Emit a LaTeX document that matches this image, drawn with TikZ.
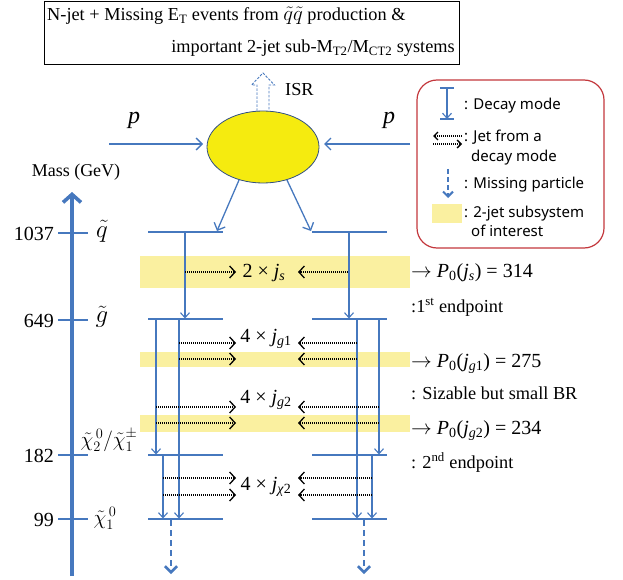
\documentclass[tikz,border=0pt]{standalone}
\usepackage{amsmath}
\usepackage{fontspec}
\setmainfont{Liberation Serif}
\newfontfamily\legendfont{Noto Sans}
\usetikzlibrary{arrows.meta,shapes.geometric}
\definecolor{lineblue}{RGB}{70,120,190}
\definecolor{bandyellow}{RGB}{250,240,160}
\definecolor{blobyellow}{RGB}{245,235,15}
\definecolor{blobedge}{RGB}{50,80,130}
\definecolor{legendred}{RGB}{195,55,60}
\newcommand\fs[1]{\fontsize{#1}{#1}\selectfont}
\begin{document}
\begin{tikzpicture}[x=1pt,y=-1pt,
  lvl/.style={draw=lineblue, line width=1.8pt},
  decay/.style={draw=lineblue, line width=1.1pt, -{Straight Barb[length=5pt,width=9pt]}},
  prod/.style={draw=lineblue, line width=1.3pt, -{Straight Barb[length=6pt,width=12pt]}},
  jet/.style={draw=black, line width=1.3pt, dash pattern=on 1pt off 1pt, -{Straight Barb[length=5.5pt,width=12pt]}},
  smalljet/.style={jet, -{Straight Barb[length=4pt,width=8pt]}},
  missing/.style={draw=lineblue, line width=2.6pt, dash pattern=on 6pt off 4pt, -{Straight Barb[length=6pt,width=12pt]}},
  band/.style={fill=bandyellow, draw=none},
  txt/.style={inner sep=0pt, font=\fs{18.3}},
  big/.style={inner sep=0pt, font=\fs{20}},
  legend/.style={font=\legendfont\fs{15}, anchor=base west, inner sep=0pt},
]
\useasboundingbox (0,0) rectangle (623,580);

% ---- title box
\node[draw=black, line width=0.9pt, minimum width=415pt, minimum height=63pt, inner sep=0pt] (titlebox) at (251.5,32.5) {};
\node[txt, anchor=base west] (t1) at (47,21) {N-jet + Missing E\textsubscript{T} events from {\fs{22}$\tilde{q}\tilde{q}$} production \&};
\node[txt, anchor=base east] (t2) at (455,53) {important 2-jet sub-M\textsubscript{T2}/M\textsubscript{CT2} systems};

% ---- legend
\node[draw=legendred, line width=1.2pt, rounded corners=20pt, minimum width=187pt, minimum height=168pt] (legbox) at (510.5,164) {};
\coordinate (ld1) at (447,88); \coordinate (ld2) at (447,119);
\draw[lineblue, line width=1.3pt] (440,88) -- (454,88) (440,119) -- (454,119);
\draw[decay] (ld1) -- (ld2);
\coordinate (lj1) at (462,136); \coordinate (lj2) at (433,136);
\coordinate (lj3) at (433,144); \coordinate (lj4) at (462,144);
\draw[smalljet] (lj1) -- (lj2);
\draw[smalljet] (lj3) -- (lj4);
\coordinate (lm1) at (448,169); \coordinate (lm2) at (448,198);
\draw[missing, line width=2pt, dash pattern=on 5pt off 3pt, -{Straight Barb[length=5pt,width=10pt]}] (lm1) -- (lm2);
\fill[bandyellow] (432,204) rectangle (462,223);
\node[legend] (lt1) at (464,110) {: Decay mode};
\node[legend] (lt2) at (464,142) {: Jet from a};
\node[legend] (lt3) at (471,161) {decay mode};
\node[legend] (lt4) at (464,189) {: Missing particle};
\node[legend] (lt5) at (464,217) {: 2-jet subsystem};
\node[legend] (lt6) at (471,236) {of interest};

% ---- collision
\node[ellipse, draw=blobedge, line width=0.8pt, fill=blobyellow, minimum width=112pt, minimum height=72pt, inner sep=0pt] (blob) at (263,147) {};
\draw[lineblue, line width=0.9pt, dash pattern=on 2.5pt off 1.5pt]
  (257,111) -- (257,85) -- (251.5,85) -- (263,73) -- (274.5,85) -- (269,85) -- (269,111);
\node[txt, anchor=base west] (isr) at (285,96) {ISR};
\coordinate (pl) at (109,144); \coordinate (pla) at (203,144);
\coordinate (pr) at (410,144); \coordinate (pra) at (324,144);
\draw[prod] (pl) -- (pla);
\draw[prod] (pr) -- (pra);
\node[inner sep=0pt, anchor=base, font=\fs{24}\itshape] (p1) at (134,124) {p};
\node[inner sep=0pt, anchor=base, font=\fs{24}\itshape] (p2) at (389,124) {p};

% ---- mass axis
\coordinate (ax0) at (72,576); \coordinate (ax1) at (72,192);
\draw[lineblue, line width=3.6pt, -{Straight Barb[length=8pt,width=18pt]}] (ax0) -- (ax1);
\node[inner sep=0pt, anchor=base, font=\fs{18}] (mass) at (76,177) {Mass (GeV)};
\foreach \yy in {233,320,455,519}{\draw[lineblue, line width=1.8pt] (58,\yy) -- (88,\yy);}
\node[big, anchor=base east] (m1) at (54,240) {1037};
\node[big, anchor=base east] (m2) at (54,327) {649};
\node[big, anchor=base east] (m3) at (54,462) {182};
\node[big, anchor=base east] (m4) at (54,526) {99};
\node[inner sep=0pt, anchor=base, font=\fs{24}] (n1) at (102,237) {$\tilde{q}$};
\node[inner sep=0pt, anchor=base, font=\fs{24}] (n2) at (102,322) {$\tilde{g}$};
\node[inner sep=0pt, anchor=base, font=\fs{19.5}] (n3) at (109,446) {$\tilde{\chi}_2^{\,0}/\tilde{\chi}_1^{\pm}$};
\node[inner sep=0pt, anchor=base, font=\fs{19.5}] (n4) at (105,524) {$\tilde{\chi}_1^{\,0}$};

% ---- bands
\fill[band] (140,256) rectangle (410,288);
\fill[band] (140,352) rectangle (410,367);
\fill[band] (140,415) rectangle (410,432);

% ---- levels
\foreach \yy/\nm in {232/q,319/g,455/c,519/n}{
  \coordinate (L\nm a) at (148,\yy); \coordinate (L\nm b) at (223,\yy);
  \coordinate (R\nm a) at (312,\yy); \coordinate (R\nm b) at (387,\yy);
  \draw[lvl] (L\nm a) -- (L\nm b);
  \draw[lvl] (R\nm a) -- (R\nm b);
}
% production arrows
\coordinate (qtipL) at (217,231); \coordinate (qtipR) at (311,231);
\draw[prod] (blob.234) -- (qtipL);
\draw[prod] (blob.306) -- (qtipR);

% decays (left)
\draw[decay] (185,232) -- (185,318.5);
\draw[decay] (156,319) -- (156,454.5);
\draw[decay] (179,319) -- (179,518.5);
\draw[decay] (163,455) -- (163,518.5);
% decays (right)
\draw[decay] (349,232) -- (349,318.5);
\draw[decay] (357,319) -- (357,518.5);
\draw[decay] (379,319) -- (379,454.5);
\draw[decay] (372,455) -- (372,518.5);
% missing particles
\draw[missing] (171,520) -- (171,574);
\draw[missing] (364,520) -- (364,574);

% ---- jets
\foreach \yy/\xl/\xr in {272/185/348, 343/179/357, 359/179/357, 407/156/379, 423/156/379, 478/163/372, 495/163/372}{
  \draw[jet] (\xl,\yy) -- (236,\yy);
  \draw[jet] (\xr,\yy) -- (298,\yy);
}
\node[big, anchor=base] (j1) at (264,277) {2 × \textit{j}\textsubscript{\textit{s}}};
\node[big, anchor=base] (j2) at (266,342) {4 × \textit{j}\textsubscript{\textit{g}1}};
\node[big, anchor=base] (j3) at (266,403) {4 × \textit{j}\textsubscript{\textit{g}2}};
\node[big, anchor=base] (j4) at (266,490) {4 × \textit{j}\textsubscript{\textit{χ}2}};

% ---- right annotations
\node[big, anchor=base west] (r1) at (411,277) {$\rightarrow$ \textit{P}\textsubscript{0}(\textit{j}\textsubscript{\textit{s}}) = 314};
\node[txt, anchor=base west] (r2) at (411,312) {:1\textsuperscript{st} endpoint};
\node[big, anchor=base west] (r3) at (411,367) {$\rightarrow$ \textit{P}\textsubscript{0}(\textit{j}\textsubscript{\textit{g}1}) = 275};
\node[txt, anchor=base west] (r4) at (411,399) {: Sizable but small BR};
\node[big, anchor=base west] (r5) at (411,434) {$\rightarrow$ \textit{P}\textsubscript{0}(\textit{j}\textsubscript{\textit{g}2}) = 234};
\node[txt, anchor=base west] (r6) at (411,468) {: 2\textsuperscript{nd} endpoint};
\end{tikzpicture}
\end{document}
